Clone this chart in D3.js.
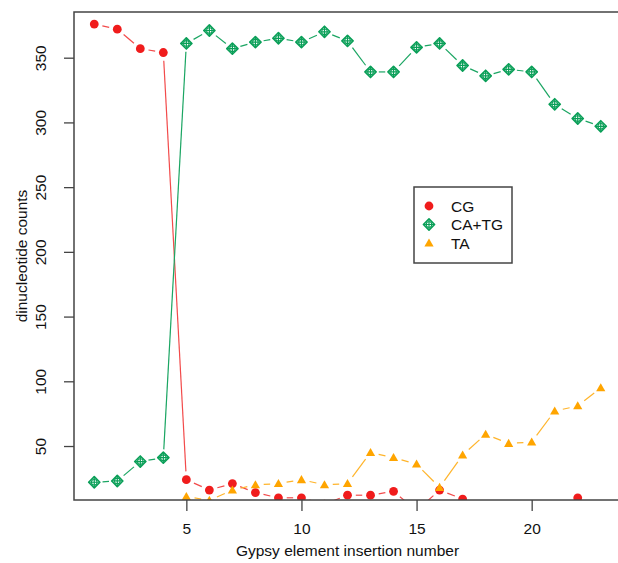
<!DOCTYPE html>
<html>
<head>
<meta charset="utf-8">
<script src="https://cdn.jsdelivr.net/npm/d3@7"></script>
<style>
  body { margin: 0; background: #fff; }
  svg { display: block; font-family: "Liberation Sans", Arial, sans-serif; }
</style>
</head>
<body>
<div id="chart"></div>
<script>
// insertion numbers 1..23
var insertion = [1, 2, 3, 4, 5, 6, 7, 8, 9, 10, 11, 12, 13, 14, 15, 16, 17, 18, 19, 20, 21, 22, 23];

// dinucleotide counts (values below ~8 are clipped in the original)
var cgCounts   = [376, 372, 357, 354, 24, 16, 21, 14, 10, 10, 5, 12, 12, 15, 0, 16, 9, 0, 0, 0, 0, 10, 3];
var catgCounts = [22, 23, 38, 41, 361, 371, 357, 362, 365, 362, 370, 363, 339, 339, 358, 361, 344, 336, 341, 339, 314, 303, 297];
var taCounts   = [11, 8, 16, 20, 21, 24, 20, 21, 45, 41, 36, 18, 43, 59, 52, 53, 77, 81, 95];
var taStart = 5; // TA series begins at insertion 5

var xTicks = [5, 10, 15, 20];
var yTicks = [50, 100, 150, 200, 250, 300, 350];
var legendLabels = ["CG", "CA+TG", "TA"];

(function() {
    var W = 618, H = 563;
    var plot = {left: 74, top: 12, right: 621, bottom: 500};

    var svg = d3.select("#chart").append("svg")
        .attr("width", W)
        .attr("height", H);

    var x = d3.scaleLinear().domain([0.12, 23.88]).range([plot.left, plot.right]);
    var y = d3.scaleLinear().domain([8.3, 385.3]).range([plot.bottom, plot.top]);

    svg.append("clipPath").attr("id", "plotclip")
        .append("rect")
        .attr("x", plot.left).attr("y", plot.top)
        .attr("width", plot.right - plot.left).attr("height", plot.bottom - plot.top);

    var g = svg.append("g").attr("clip-path", "url(#plotclip)");

    var series = [
        {name: "CG", color: "#f01c1c", lineColor: "#f24a4a", shape: "circle",
         data: cgCounts.map(function(v, i) { return {x: insertion[i], y: v}; })},
        {name: "CA+TG", color: "#0a9f58", lineColor: "#1aa562", shape: "diamond",
         data: catgCounts.map(function(v, i) { return {x: insertion[i], y: v}; })},
        {name: "TA", color: "#ffa500", lineColor: "#ffb42a", shape: "triangle",
         data: taCounts.map(function(v, i) { return {x: taStart + i, y: v}; })}
    ];

    // type = "b" style: segments between points, with a gap around each point
    var gap = 8.3;
    series.forEach(function(s) {
        for (var i = 0; i < s.data.length - 1; i++) {
            var x1 = x(s.data[i].x), y1 = y(s.data[i].y);
            var x2 = x(s.data[i + 1].x), y2 = y(s.data[i + 1].y);
            var len = Math.hypot(x2 - x1, y2 - y1);
            if (len <= 2 * gap) continue;
            var ux = (x2 - x1) / len, uy = (y2 - y1) / len;
            g.append("line")
                .attr("x1", x1 + ux * gap).attr("y1", y1 + uy * gap)
                .attr("x2", x2 - ux * gap).attr("y2", y2 - uy * gap)
                .attr("stroke", s.lineColor)
                .attr("stroke-width", 1.2);
        }
    });

    function drawSymbol(sel, shape, color, cx, cy) {
        if (shape === "circle") {
            sel.append("circle").attr("cx", cx).attr("cy", cy).attr("r", 4.4).attr("fill", color);
        } else if (shape === "diamond") {
            var d = 5.6;
            sel.append("path")
                .attr("d", "M" + cx + "," + (cy - d) + "L" + (cx + d) + "," + cy + "L" + cx + "," + (cy + d) + "L" + (cx - d) + "," + cy + "Z")
                .attr("fill", "none").attr("stroke", color).attr("stroke-width", 1.6)
                .attr("stroke-linejoin", "round");
            sel.append("circle").attr("cx", cx).attr("cy", cy).attr("r", 2.8)
                .attr("fill", "none").attr("stroke", color).attr("stroke-width", 1.1);
            sel.append("path")
                .attr("d", "M" + (cx - d) + "," + cy + "H" + (cx + d) + "M" + cx + "," + (cy - d) + "V" + (cy + d))
                .attr("stroke", color).attr("stroke-width", 1.2);
        } else {
            var h = 4.6;
            sel.append("path")
                .attr("d", "M" + cx + "," + (cy - h) + "L" + (cx + h) + "," + (cy + h * 0.75) + "L" + (cx - h) + "," + (cy + h * 0.75) + "Z")
                .attr("fill", color);
        }
    }

    series.forEach(function(s) {
        s.data.forEach(function(d) {
            drawSymbol(g, s.shape, s.color, x(d.x), y(d.y));
        });
    });

    // plot box
    svg.append("rect")
        .attr("x", plot.left).attr("y", plot.top)
        .attr("width", plot.right - plot.left).attr("height", plot.bottom - plot.top)
        .attr("fill", "none").attr("stroke", "#444").attr("stroke-width", 1.5);

    // x axis
    var xAxis = svg.append("g")
        .attr("transform", "translate(0," + plot.bottom + ")")
        .call(d3.axisBottom(x).tickValues(xTicks).tickSize(11).tickPadding(12).tickFormat(d3.format("d")));
    xAxis.select(".domain").remove();
    xAxis.selectAll("line").attr("stroke", "#444").attr("stroke-width", 1.3);
    xAxis.selectAll("text").attr("font-size", 15.5).attr("fill", "#111")
        .attr("font-family", "Liberation Sans, Arial, sans-serif");

    // y axis, labels parallel to the axis
    var yAxis = svg.append("g")
        .attr("transform", "translate(" + plot.left + ",0)")
        .call(d3.axisLeft(y).tickValues(yTicks).tickSize(10).tickFormat(d3.format("d")));
    yAxis.select(".domain").remove();
    yAxis.selectAll("line").attr("stroke", "#444").attr("stroke-width", 1.3);
    yAxis.selectAll("text")
        .attr("font-size", 15.5).attr("fill", "#111")
        .attr("font-family", "Liberation Sans, Arial, sans-serif")
        .attr("text-anchor", "middle")
        .attr("x", 0).attr("dy", null)
        .attr("transform", "translate(-28,0) rotate(-90)");

    // axis titles
    svg.append("text")
        .attr("x", (plot.left + plot.right) / 2)
        .attr("y", 556)
        .attr("text-anchor", "middle")
        .attr("font-size", 15.5).attr("fill", "#111")
        .text("Gypsy element insertion number");

    svg.append("text")
        .attr("transform", "translate(27," + ((plot.top + plot.bottom) / 2) + ") rotate(-90)")
        .attr("text-anchor", "middle")
        .attr("font-size", 15.5).attr("fill", "#111")
        .text("dinucleotide counts");

    // legend
    var lg = svg.append("g");
    lg.append("rect")
        .attr("x", 414).attr("y", 187).attr("width", 98).attr("height", 76)
        .attr("fill", "#fff").attr("stroke", "#444").attr("stroke-width", 1.5);
    legendLabels.forEach(function(label, i) {
        var cy = 206 + i * 18.5;
        var s = series[i];
        drawSymbol(lg, s.shape, s.color, 429, cy);
        lg.append("text")
            .attr("x", 451).attr("y", cy + 5.5)
            .attr("font-size", 15.5).attr("fill", "#111")
            .text(label);
    });
})();
</script>
</body>
</html>
